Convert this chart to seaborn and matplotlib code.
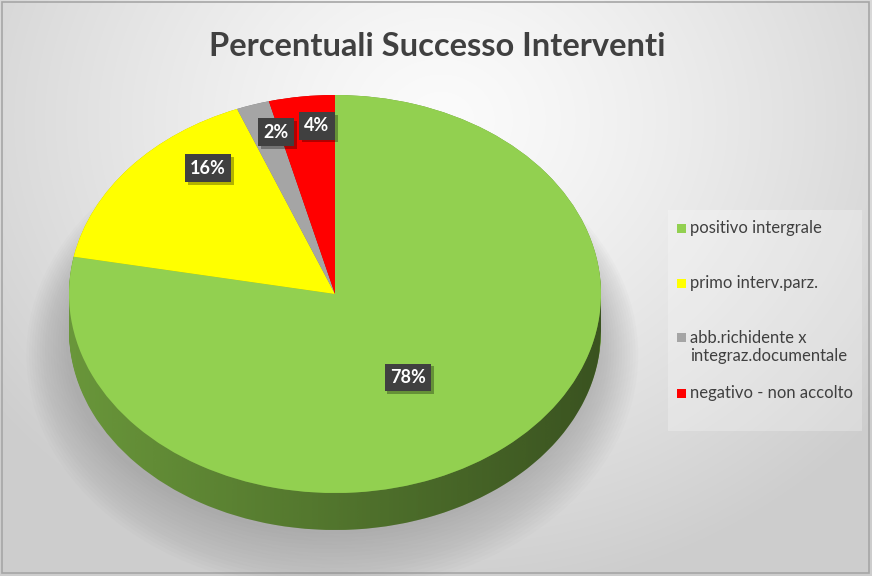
import numpy as np
import matplotlib
matplotlib.use("Agg")
import matplotlib.pyplot as plt
import matplotlib.patheffects as pe
import seaborn as sns
from matplotlib.patches import Rectangle, Polygon, Ellipse
from matplotlib.colors import LinearSegmentedColormap, to_rgb

# --- dati ---
categories = ["positivo intergrale", "primo interv.parz.",
              "abb.richidente x\nintegraz.documentale", "negativo - non accolto"]
values = [78, 16, 2, 4]
labels = ["78%", "16%", "2%", "4%"]
colors = ["#92d050", "#ffff00", "#a5a5a5", "#ff0000"]

# posizioni etichette (coordinate del grafico, ellisse unitaria)
label_pos = [(0.274, -0.42), (-0.477, 0.633), (-0.222, 0.814), (-0.068, 0.846)]
legend_y = [228, 283, 347, 393]  # pixel

sns.set_theme(style="white")
plt.rcParams["font.family"] = ["Lato", "DejaVu Sans"]

W, H = 872, 576
fig = plt.figure(figsize=(W / 100, H / 100), dpi=100)

# --- sfondo a gradiente radiale ---
bg = fig.add_axes([0, 0, 1, 1])
yy, xx = np.mgrid[0:H, 0:W]
r = np.sqrt(((xx - 440) / 560.0) ** 2 + ((yy - 120) / 480.0) ** 2)
r = np.clip(r, 0, 1)
shade = 0.985 - 0.18 * r ** 1.3
bg.imshow(np.dstack([shade] * 3), extent=[0, W, H, 0], aspect="auto")
bg.add_patch(Rectangle((2, 2), W - 5, H - 5, fill=False, edgecolor="#a6a6a6", lw=1.2))
bg.set_xlim(0, W)
bg.set_ylim(H, 0)
bg.axis("off")

# --- torta 3D ---
d = 37 / 199  # spessore
left, right, top, bottom = 69, 601, 95, 530
ax = fig.add_axes([left / W, 1 - bottom / H, (right - left) / W, (bottom - top) / H])

# ombra morbida (in basso)
for i in range(16):
    ax.add_patch(Ellipse((-0.01, -d - 0.06 - 0.004 * i), 2.0 + 0.02 * i, 1.92 + 0.03 * i,
                         facecolor="#808080", edgecolor="none", alpha=0.03,
                         zorder=0, clip_on=False))

# lato (strati scuri)
side_cols = [tuple(c * 0.72 for c in to_rgb(col)) for col in colors]
for k in np.linspace(d, 0, 30):
    ax.pie(values, colors=side_cols, startangle=90, counterclock=False,
           center=(0, -k), radius=1, wedgeprops=dict(linewidth=0, zorder=1))

# ombreggiatura del lato
xs = np.linspace(-1, 1, 300)
ytop = -np.sqrt(np.clip(1 - xs ** 2, 0, None))
band = np.concatenate([np.column_stack([xs, ytop]),
                       np.column_stack([xs[::-1], ytop[::-1] - d])])
band_patch = Polygon(band, closed=True, facecolor="none", edgecolor="none")
ax.add_patch(band_patch)
grad = np.linspace(0.0, 0.45, 256)[None, :]
dark = LinearSegmentedColormap.from_list("dk", [(0, 0, 0, 0), (0, 0, 0, 1)])
im = ax.imshow(grad, cmap=dark, vmin=0, vmax=1, extent=[-1, 1, -1 - d, 0.01],
               aspect="auto", zorder=2)
im.set_clip_path(band_patch)

# faccia superiore
wedges, _ = ax.pie(values, colors=colors, startangle=90, counterclock=False,
                   radius=1, wedgeprops=dict(linewidth=0, zorder=3))

ax.set_aspect("auto")
ax.set_xlim(-1, 1)
ax.set_ylim(-1 - d, 1)
ax.axis("off")

# etichette dati
for (x, y), lab in zip(label_pos, labels):
    t = ax.text(x, y, lab, ha="center", va="center", fontsize=13, fontweight="bold",
                color="white", zorder=5,
                bbox=dict(boxstyle="square,pad=0.3", facecolor="#404040", edgecolor="none"))
    t.get_bbox_patch().set_path_effects(
        [pe.SimplePatchShadow(offset=(2, -2), shadow_rgbFace="black", alpha=0.3),
         pe.Normal()])

# titolo
bg.text(437, 46, "Percentuali Successo Interventi", ha="center", va="center",
        fontsize=23.5, fontweight="bold", color="#404040")

# legenda
bg.add_patch(Rectangle((668, 210), 194, 221, facecolor="#ffffff", alpha=0.25,
                       edgecolor="none"))
for y, cat, col in zip(legend_y, categories, colors):
    nlines = cat.count("\n") + 1
    my = y - (nlines - 1) * 9.5
    bg.add_patch(Rectangle((677, my - 4.5), 9, 9, facecolor=col, edgecolor="none"))
    bg.text(690, y, cat, ha="left", va="center", fontsize=12, color="#404040",
            linespacing=1.2)

fig.savefig("out.png", dpi=100)
